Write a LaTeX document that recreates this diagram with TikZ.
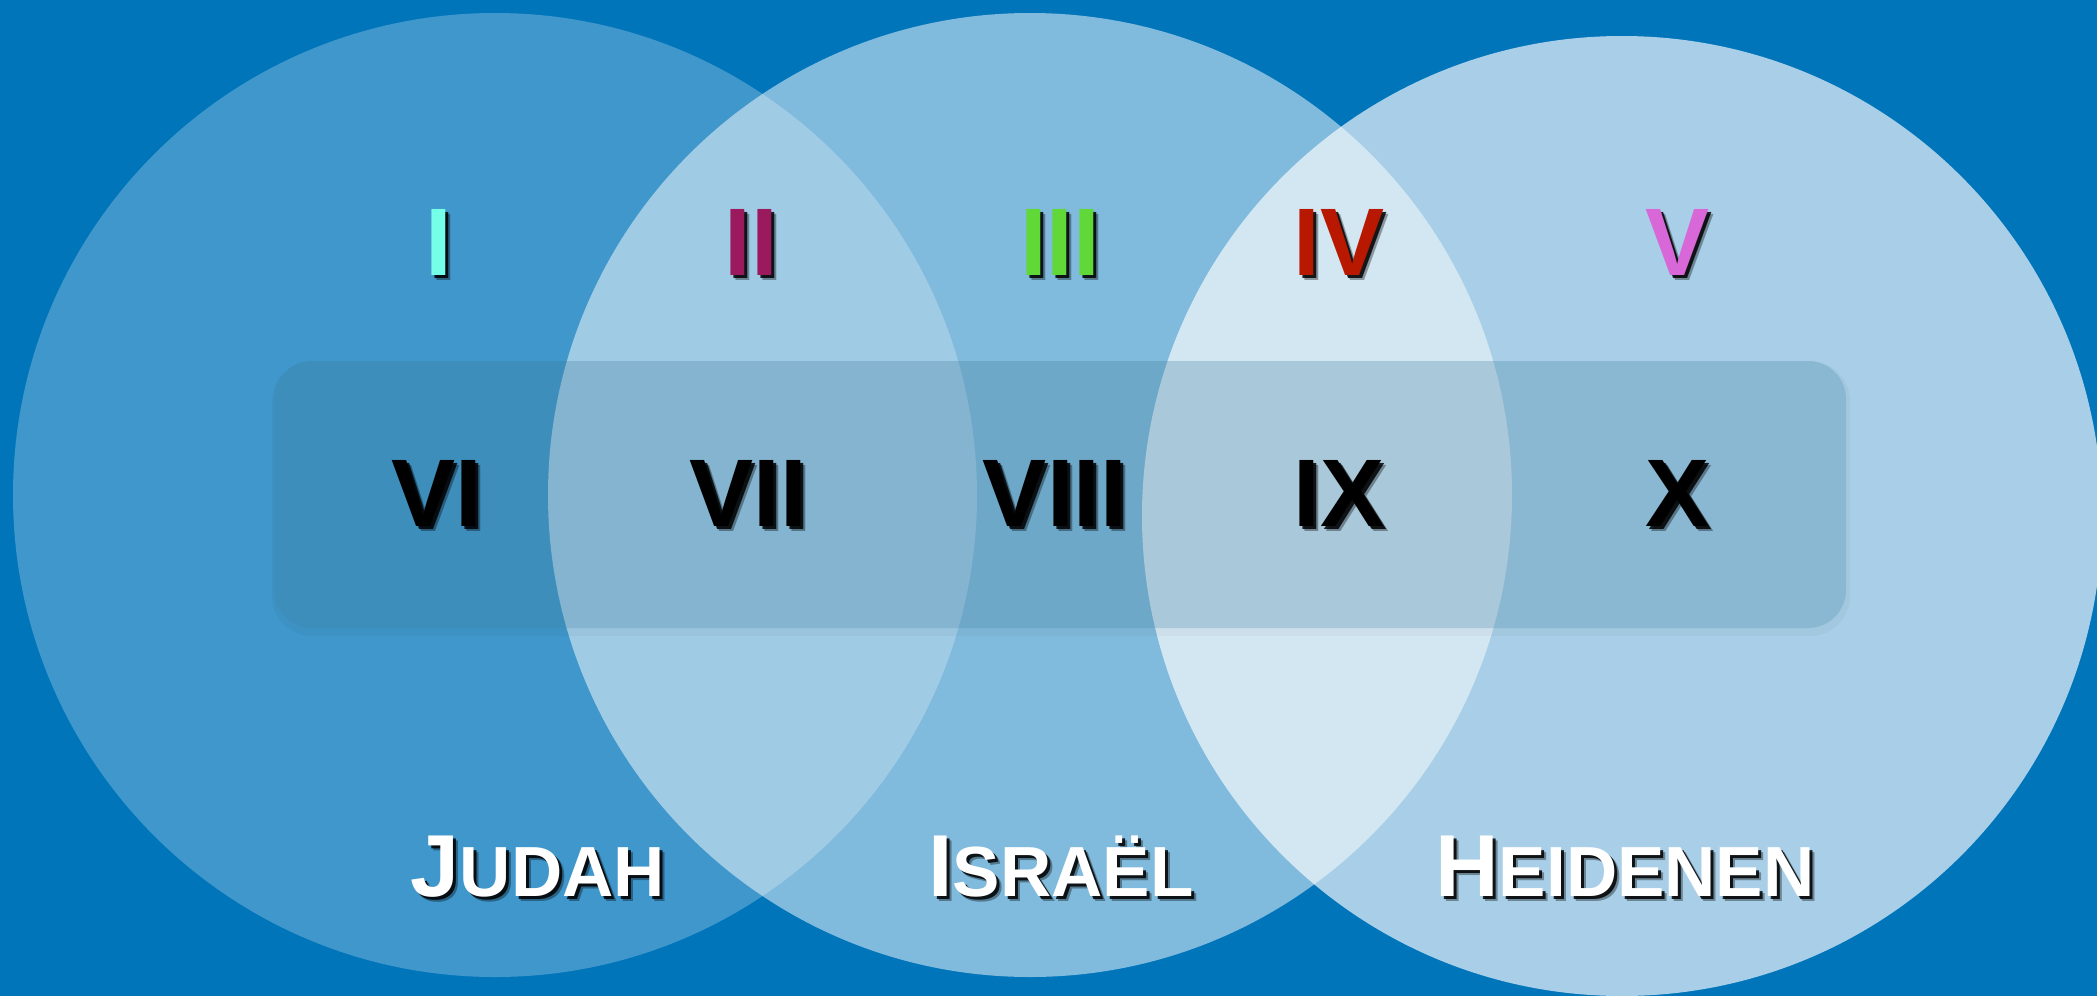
\documentclass[tikz,border=0pt]{standalone}
\usepackage{fontspec}
\setmainfont{Liberation Sans}
\definecolor{bgblue}{RGB}{0,117,186}
\definecolor{bandc}{RGB}{68,134,168}
\definecolor{cI}{RGB}{118,255,232}
\definecolor{cII}{RGB}{155,26,94}
\definecolor{cIII}{RGB}{96,216,56}
\definecolor{cIV}{RGB}{184,24,0}
\definecolor{cV}{RGB}{216,104,216}
\newcommand{\scword}[2]{{\fontsize{88}{90}\selectfont #1}{\fontsize{71}{72}\selectfont #2}}
\newcommand{\shd}[2]{%
  \makebox[0pt][l]{\kern5pt\raisebox{-5pt}{\pgfsetfillopacity{0.35}\color{black}#2}}%
  \makebox[0pt][l]{\kern3pt\raisebox{-3pt}{\pgfsetfillopacity{0.85}\color{black}#2}}%
  {\pgfsetfillopacity{1}\color{#1}#2}}
\begin{document}
\begin{tikzpicture}[x=1pt,y=-1pt,
  numeral/.style={anchor=base, inner sep=0pt, font=\fontsize{96}{100}\selectfont\bfseries},
  label/.style={anchor=base, inner sep=0pt, font=\bfseries}]
\useasboundingbox (0,0) rectangle (2097,996);
\fill[bgblue] (0,0) rectangle (2097,996);
\begin{scope}
\clip (0,0) rectangle (2097,996);
\fill[white, opacity=0.25] (495,495) circle[radius=482pt];
\fill[white, opacity=0.5] (1030,495) circle[radius=482pt];
\fill[white, opacity=0.66] (1622,516) circle[radius=480pt];
\end{scope}
% band
\fill[black, opacity=0.03, rounded corners=40pt] (272,361) rectangle (1850,636);
\fill[bandc, opacity=0.25, rounded corners=38pt] (274,361) rectangle (1846,628);
% top row
\foreach \n/\x/\c/\t in {a/439/cI/I, b/751/cII/II, c/1060/cIII/III, d/1339/cIV/IV, e/1677/cV/V}{
  \node[numeral] (top\n) at (\x,275) {\shd{\c}{\t}};
}
% bottom row
\foreach \n/\x/\t in {a/437/VI, b/748/VII, c/1055/VIII, d/1339/IX, e/1677/X}{
  \node[numeral] (bot\n) at (\x,526) {\shd{black}{\t}};
}
% labels
\foreach \n/\x/\a/\b in {j/538/J/UDAH, i/1061/I/SRAËL, h/1625/H/EIDENEN}{
  \node[label] (lab\n) at (\x,896) {\shd{white}{\scword{\a}{\b}}};
}
\end{tikzpicture}
\end{document}
